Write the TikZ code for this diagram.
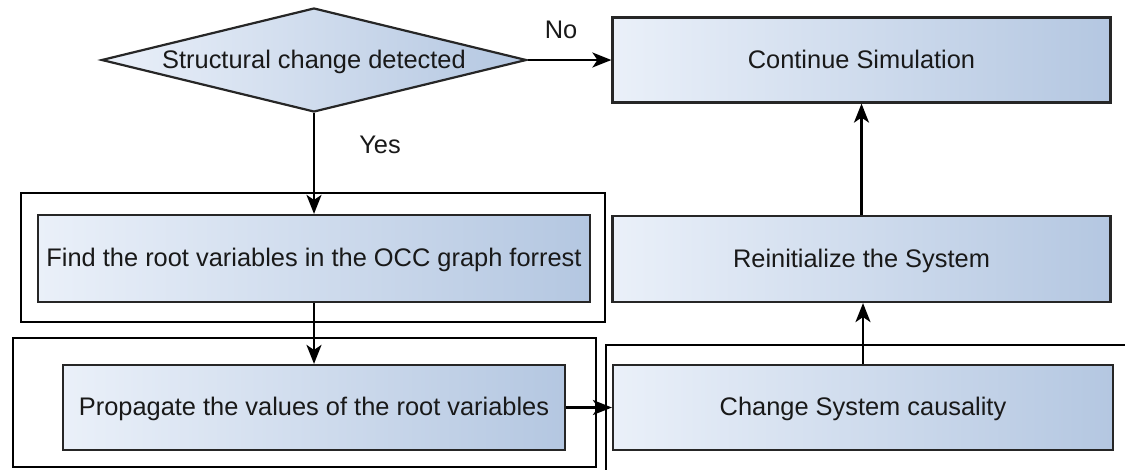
\documentclass[tikz,border=0pt]{standalone}
\usepackage{fontspec}
\setmainfont{Liberation Sans}
\usetikzlibrary{shapes.geometric,arrows.meta}
\definecolor{fillL}{RGB}{234,240,249}
\definecolor{fillR}{RGB}{180,199,225}
\definecolor{inkC}{RGB}{25,25,25}
\tikzset{
  procbox/.style={draw=black!85, line width=2.2pt, left color=fillL, right color=fillR,
    inner sep=0pt, text height=16pt, text depth=0pt, text=inkC, font=\fontsize{25.4}{30}\selectfont},
  decision/.style={diamond, draw=black!85, line width=2.2pt, left color=fillL, right color=fillR,
    inner sep=0pt, aspect=4.09, text height=16pt, text depth=0pt, text=inkC, font=\fontsize{25.4}{30}\selectfont},
  groupframe/.style={draw=black, line width=2.2pt},
  flow/.style={draw=black, line width=2.2pt, -{Stealth[length=19pt,width=15pt,inset=5pt]}},
  tag/.style={text=inkC, font=\fontsize{25.4}{30}\selectfont}
}
\begin{document}
\begin{tikzpicture}[x=1pt,y=-1pt]
\useasboundingbox (0,0) rectangle (1125,469);
\clip (0,0) rectangle (1125,469);

% grouping frames
\draw[groupframe] (21,193) rectangle (605,322);
\draw[groupframe] (13,338) rectangle (596,467);
\draw[groupframe] (606,500) -- (606,345) -- (1140,345);

% decision and process steps
\node[decision, minimum width=425pt, minimum height=104pt] (dec) at (314,60) {Structural change detected};
\node[procbox, minimum width=498pt, minimum height=85pt] (cont) at (861.5,60) {Continue Simulation};
\node[procbox, minimum width=498pt, minimum height=86pt] (reinit) at (861.5,259) {Reinitialize the System};
\node[procbox, minimum width=552pt, minimum height=87pt] (find) at (314,258.5) {Find the root variables in the OCC graph forrest};
\node[procbox, minimum width=502pt, minimum height=85pt] (prop) at (314,407.5) {Propagate the values of the root variables};
\node[procbox, minimum width=500pt, minimum height=85pt] (change) at (863,407.5) {Change System causality};

% connectors
\draw[flow] (dec.east) -- (cont.west);
\draw[flow] (dec.south) -- (find.north);
\draw[flow] (find.south) -- (prop.north);
\draw[flow] (prop.east) -- (change.west);
\draw[flow] (change.north) -- (change.north |- reinit.south);
\draw[flow] (reinit.north) -- (reinit.north |- cont.south);

% branch labels
\node[tag] (no) at (561,30) {No};
\node[tag] (yes) at (380,145) {Yes};
\end{tikzpicture}
\end{document}
